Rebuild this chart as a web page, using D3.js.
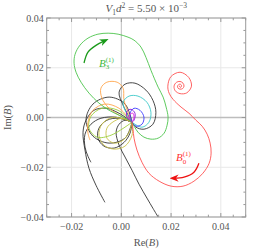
<!DOCTYPE html>
<html lang="en">
<head>
<meta charset="UTF-8">
<title>B trajectories</title>
<script src="https://cdn.jsdelivr.net/npm/d3@7/dist/d3.min.js"></script>
<style>
  body { margin: 0; background: #fff; }
  svg text { font-family: "Liberation Serif", "Times New Roman", serif; fill: #555; }
</style>
</head>
<body>
<script>
// all curve points are in units of 1e-3 (Re B, Im B)
var xTicks = [-0.02, 0, 0.02, 0.04];
var yTicks = [-0.04, -0.02, 0, 0.02, 0.04];

var greenB3 = [[4.3,-1.9],[6.7,-5.9],[9.1,-7.9],[11.9,-8.7],[14.8,-8.3],[17.2,-6.3],[18.4,-3.1],[18.8,0.1],[18.0,4.2],[16.8,8.2],[14.8,12.2],[11.9,19.0],[9.9,24.2],[7.9,28.3],[5.1,31.1],[2.7,32.3],[-1.3,33.5],[-5.3,33.9],[-9.4,33.5],[-13.4,31.9],[-16.6,29.1],[-18.6,25.4],[-19.0,21.8],[-18.2,18.2],[-16.2,14.2],[-13.0,9.8],[-9.0,5.8],[-4.9,2.9],[-0.9,0.9],[2.3,-0.7],[4.3,-1.9]];
var redB0 = [[23.6,12.6],[23.4,12.6],[23.4,12.4],[23.6,12.2],[24.0,12.2],[24.2,12.6],[24.1,13.1],[23.6,13.4],[23.0,13.2],[22.6,12.6],[22.8,11.8],[23.6,11.4],[24.6,11.6],[25.2,12.6],[24.8,13.8],[23.6,14.5],[22.1,14.1],[21.2,12.6],[21.7,10.7],[23.6,9.6],[26.3,9.9],[28.2,12.6],[27.1,16.1],[23.6,18.2],[19.9,16.4],[18.7,12.6],[19.2,9.8],[20.8,7.3],[24.0,4.2],[27.2,1.7],[30.0,-1.1],[32.5,-3.5],[34.5,-6.7],[35.7,-10.3],[36.1,-14.3],[35.3,-18.4],[32.8,-22.4],[29.2,-25.6],[24.8,-27.6],[20.0,-27.6],[15.2,-25.6],[11.1,-22.4],[8.3,-18.0],[6.3,-13.1],[5.1,-8.3],[4.7,-4.7],[4.3,-1.9]];
var blackA = [[4.3,-1.9],[0.7,5.0],[-0.9,10.2],[1.5,13.4],[5.5,13.8],[9.9,11.0],[12.7,6.9],[13.9,2.1],[12.7,-2.7],[9.1,-4.7],[5.9,-3.9],[4.3,-1.9]];
var blackB = [[4.3,-1.9],[1.5,-1.1],[-0.9,-2.7],[-2.1,-5.9],[-0.9,-11.1],[1.5,-15.9],[4.3,-21.2],[7.1,-26.8],[10.3,-32.4],[12.7,-36.5],[14.8,-40.0]];
var blackC = [[4.3,-1.9],[-0.9,1.7],[-6.2,3.7],[-11.0,2.9],[-14.2,-1.1],[-15.4,-5.9],[-14.6,-13.1],[-13.0,-20.4],[-10.2,-27.2],[-6.6,-34.1]];
var blackD = [[4.3,-1.9],[-2.1,0.1],[-8.2,-0.3],[-12.2,-2.7],[-14.6,-6.7],[-14.6,-11.9],[-13.4,-15.6],[-12.2,-18.0]];
var blackE = [[4.3,-1.9],[-0.9,-0.3],[-5.8,-1.1],[-9.0,-4.3],[-9.4,-8.3],[-7.0,-11.5],[-2.9,-12.3],[1.1,-10.0],[3.5,-6.3],[4.3,-1.9]];
var blackF = [[4.3,-1.9],[1.5,5.4],[-4.9,8.2],[-11.4,5.4],[-14.2,-1.1],[-11.4,-7.5],[-4.9,-10.3],[1.5,-8.3],[4.3,-1.9]];
var orange1 = [[4.3,-1.9],[1.1,6.9],[0.7,11.8],[-1.7,14.2],[-5.8,14.2],[-8.2,11.8],[-7.8,7.8],[-4.9,3.7],[-0.1,0.5],[4.3,-1.9]];
var orange2 = [[4.3,-1.9],[-0.9,3.7],[-6.6,5.4],[-11.4,2.9],[-13.4,-1.9],[-13.4,-6.3],[-12.6,-9.1]];
var olive1 = [[4.3,-1.9],[3.1,-5.9],[0.7,-9.1],[-2.9,-10.3],[-5.8,-8.3],[-5.8,-4.3],[-2.9,-1.5],[0.7,-0.3],[4.3,-1.9]];
var olive2 = [[4.3,-1.9],[4.3,-7.1],[1.5,-11.5],[-2.9,-12.7],[-7.0,-11.1],[-9.0,-7.1],[-7.8,-2.7],[-3.3,0.1],[4.3,-1.9]];
var yellowGreen = [[4.3,-1.9],[-1.3,2.9],[-7.8,3.7],[-12.2,0.5],[-13.0,-4.3],[-9.8,-7.9],[-4.1,-7.1],[4.3,-1.9]];
var cyan = [[4.3,-1.9],[1.9,2.1],[0.7,6.1],[3.1,8.6],[6.7,8.6],[10.3,6.1],[11.9,2.1],[11.1,-1.9],[8.3,-3.9],[4.3,-1.9]];
var blue = [[4.3,-1.9],[3.5,1.7],[5.1,3.7],[7.5,2.9],[9.1,0.1],[8.3,-2.7],[5.9,-3.5],[4.3,-1.9]];
var purple = [[4.3,-1.9],[2.3,0.1],[2.3,2.5],[3.9,3.3],[5.5,1.7],[5.1,-1.1],[4.3,-1.9]];
var magenta = [[4.3,-1.9],[3.1,-0.7],[3.5,1.3],[4.7,1.7],[5.1,0.1],[4.3,-1.9]];

var arrowB3 = [[-15.0,21.9],[-13.4,26.3],[-10.2,29.0],[-6.8,30.8]];
var arrowB0 = [[31.2,-18.4],[29.2,-22.0],[25.2,-24.0],[21.2,-24.4]];

var W = 263, H = 250;
var m = {left: 46.7, top: 18, right: 17.3, bottom: 33};
var pw = W - m.left - m.right, ph = H - m.top - m.bottom;

var svg = d3.select("body").append("svg")
    .attr("width", W).attr("height", H);

var x = d3.scaleLinear().domain([-0.03, 0.05]).range([m.left, m.left + pw]);
var y = d3.scaleLinear().domain([-0.04, 0.04]).range([m.top + ph, m.top]);

// grid
var grid = svg.append("g");
grid.selectAll(".gx").data(xTicks).enter().append("line")
    .attr("x1", d => x(d)).attr("x2", d => x(d))
    .attr("y1", m.top).attr("y2", m.top + ph)
    .attr("stroke", d => d === 0 ? "#bdbdbd" : "#e8e8e8")
    .attr("stroke-width", 1);
grid.selectAll(".gy").data(yTicks).enter().append("line")
    .attr("y1", d => y(d)).attr("y2", d => y(d))
    .attr("x1", m.left).attr("x2", m.left + pw)
    .attr("stroke", d => d === 0 ? "#bdbdbd" : "#e8e8e8")
    .attr("stroke-width", d => d === 0 ? 1.3 : 1);

// curves
var line = d3.line()
    .x(d => x(d[0] * 1e-3))
    .y(d => y(d[1] * 1e-3))
    .curve(d3.curveCatmullRom.alpha(0.5));

var series = [
  [blackF, "#333"], [blackE, "#333"], [blackD, "#333"], [blackC, "#333"], [blackB, "#333"], [blackA, "#333"],
  [olive2, "#c9c24a"], [olive1, "#c9c24a"], [yellowGreen, "#9ccf3c"],
  [orange2, "#ffa64d"], [orange1, "#ffa64d"],
  [cyan, "#3cc8c8"], [blue, "#3a3aff"], [purple, "#8a1adb"], [magenta, "#e01ee0"],
  [greenB3, "#4cc44c"], [redB0, "#ff5050"]
];

var plot = svg.append("g");
plot.selectAll("path").data(series).enter().append("path")
    .attr("d", d => line(d[0]))
    .attr("fill", "none")
    .attr("stroke", d => d[1])
    .attr("stroke-width", 0.9);

// arrows
var defs = svg.append("defs");
[["ahG", "#1a9a1a"], ["ahR", "#ee1111"]].forEach(function(a) {
  defs.append("marker").attr("id", a[0])
      .attr("viewBox", "0 0 10 10").attr("refX", 5).attr("refY", 5)
      .attr("markerWidth", 7).attr("markerHeight", 7)
      .attr("orient", "auto")
    .append("path").attr("d", "M0,1 L10,5 L0,9 L3,5 Z").attr("fill", a[1]);
});
svg.append("path").attr("d", line(arrowB3))
    .attr("fill", "none").attr("stroke", "#1a9a1a").attr("stroke-width", 1.3)
    .attr("marker-end", "url(#ahG)");
svg.append("path").attr("d", line(arrowB0))
    .attr("fill", "none").attr("stroke", "#ee1111").attr("stroke-width", 1.3)
    .attr("marker-end", "url(#ahR)");

// labels B_3^(1), B_0^(1)
function bLabel(px, py, sub, color) {
  var t = svg.append("text").attr("x", px).attr("y", py)
      .style("fill", color).attr("font-size", 11);
  t.append("tspan").text("B").attr("font-style", "italic");
  t.append("tspan").text(sub).attr("font-size", 7).attr("dy", 2.5);
  t.append("tspan").text("(1)").attr("font-size", 7).attr("dx", -3.5).attr("dy", -7.5);
}
bLabel(x(-0.0090), y(0.0205), "3", "#3cb83c");
bLabel(x(0.0220), y(-0.0175), "0", "#ff3333");

// frame + ticks
var frame = svg.append("g");
frame.append("rect").attr("x", m.left).attr("y", m.top)
    .attr("width", pw).attr("height", ph)
    .attr("fill", "none").attr("stroke", "#999").attr("stroke-width", 1);

var xMinor = d3.range(-0.03, 0.0501, 0.005);
var yMinor = d3.range(-0.04, 0.0401, 0.005);
function isMajor(v) { return Math.abs(v / 0.02 - Math.round(v / 0.02)) < 1e-6; }

xMinor.forEach(function(v) {
  var L = isMajor(v) ? 4 : 2.3;
  frame.append("line").attr("x1", x(v)).attr("x2", x(v))
      .attr("y1", m.top + ph).attr("y2", m.top + ph - L).attr("stroke", "#999");
  frame.append("line").attr("x1", x(v)).attr("x2", x(v))
      .attr("y1", m.top).attr("y2", m.top + L).attr("stroke", "#999");
});
yMinor.forEach(function(v) {
  var L = isMajor(v) ? 4 : 2.3;
  frame.append("line").attr("y1", y(v)).attr("y2", y(v))
      .attr("x1", m.left).attr("x2", m.left + L).attr("stroke", "#999");
  frame.append("line").attr("y1", y(v)).attr("y2", y(v))
      .attr("x1", m.left + pw).attr("x2", m.left + pw - L).attr("stroke", "#999");
});

var fmt = d3.format(".2f");
svg.selectAll(".xl").data(xTicks).enter().append("text")
    .attr("x", d => x(d)).attr("y", m.top + ph + 13)
    .attr("text-anchor", "middle").attr("font-size", 10)
    .text(d => fmt(d));
svg.selectAll(".yl").data(yTicks).enter().append("text")
    .attr("x", m.left - 3).attr("y", d => y(d) + 3.5)
    .attr("text-anchor", "end").attr("font-size", 10)
    .text(d => fmt(d));

// axis titles
var xt = svg.append("text").attr("x", m.left + pw / 2).attr("y", 246)
    .attr("text-anchor", "middle").attr("font-size", 10.5);
xt.append("tspan").text("Re(");
xt.append("tspan").text("B").attr("font-style", "italic");
xt.append("tspan").text(")");

var yt = svg.append("text").attr("transform", "translate(11," + (m.top + ph / 2) + ") rotate(-90)")
    .attr("text-anchor", "middle").attr("font-size", 10.5);
yt.append("tspan").text("Im(");
yt.append("tspan").text("B").attr("font-style", "italic");
yt.append("tspan").text(")");

// plot title
var tt = svg.append("text").attr("x", m.left + pw / 2).attr("y", 12)
    .attr("text-anchor", "middle").attr("font-size", 11);
tt.append("tspan").text("V").attr("font-style", "italic");
tt.append("tspan").text("1").attr("font-size", 7.5).attr("dy", 2.5);
tt.append("tspan").text("d").attr("font-style", "italic").attr("dy", -2.5);
tt.append("tspan").text("2").attr("font-size", 7.5).attr("dy", -4);
tt.append("tspan").text(" = 5.50 \u00d7 10").attr("dy", 4);
tt.append("tspan").text("\u22123").attr("font-size", 7.5).attr("dy", -4);
</script>
</body>
</html>
